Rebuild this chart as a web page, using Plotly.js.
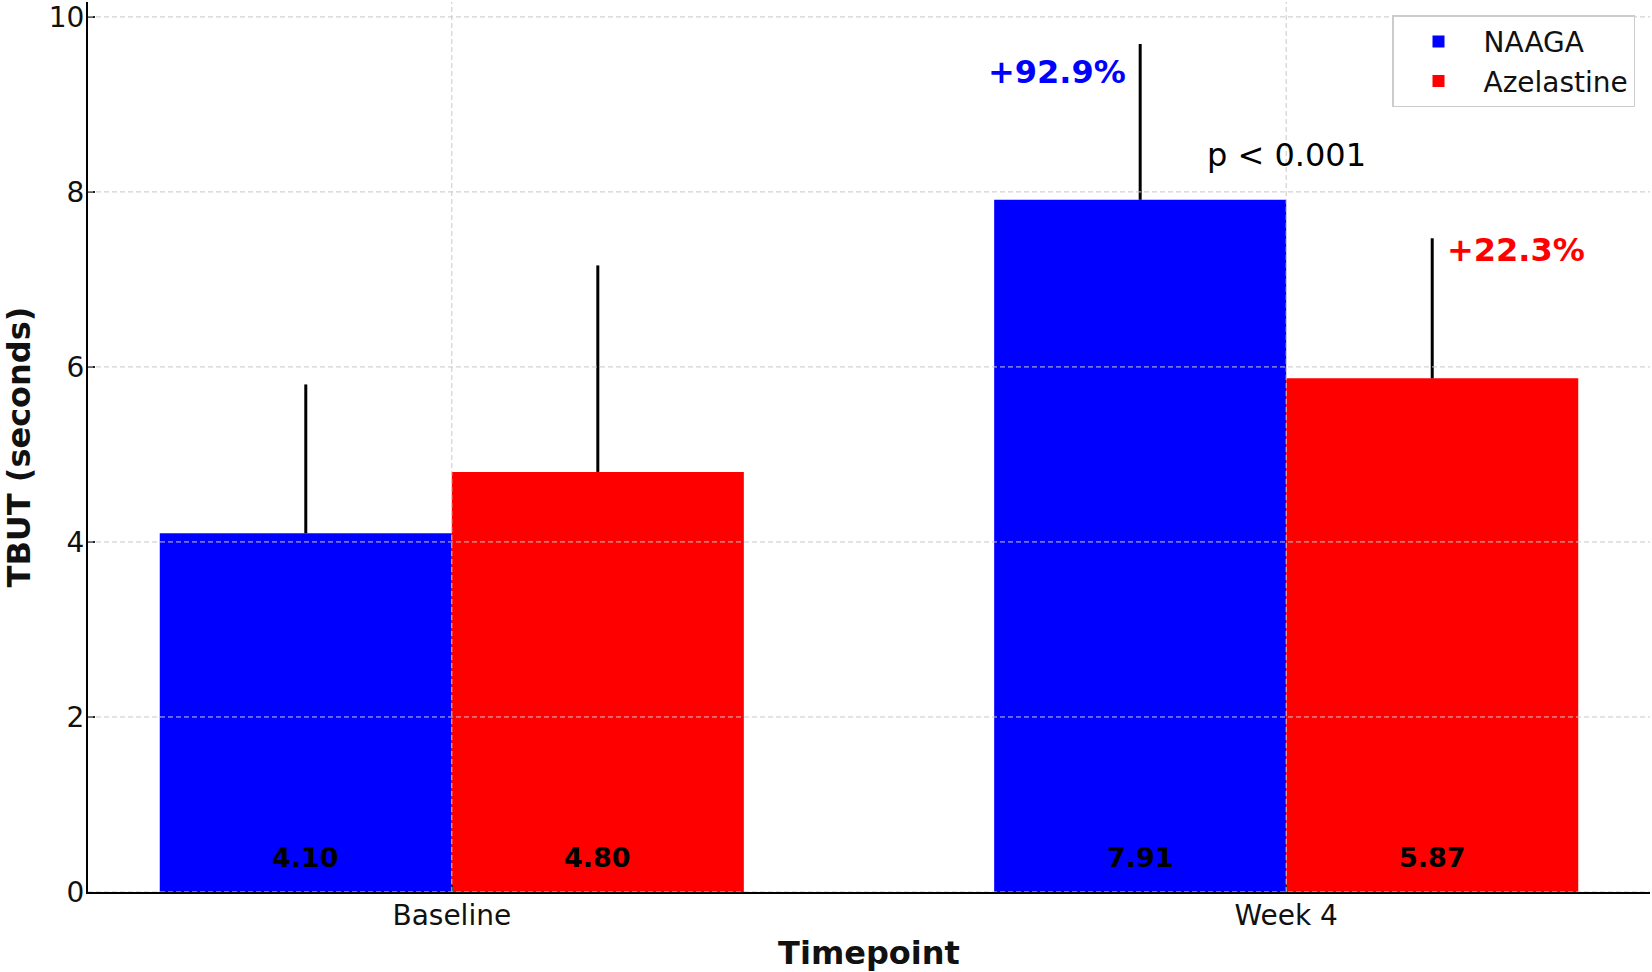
<!DOCTYPE html>
<html>
<head>
<meta charset="utf-8">
<script src="https://cdn.plot.ly/plotly-3.0.1.min.js"></script>
<style>
  html, body { margin: 0; padding: 0; background: #ffffff; }
  #chart { width: 1652px; height: 972px; }
</style>
</head>
<body>
<div id="chart"></div>
<script>
// ---- data ----
const categories = ['Baseline', 'Week 4'];
const seriesNames = ['NAAGA', 'Azelastine'];
const naagaMean = [4.10, 7.91];
const naagaSD = [1.70, 1.78];
const azeMean = [4.80, 5.87];
const azeSD = [2.36, 1.60];
const pctLabels = ['+92.9%', '+22.3%'];
const pValueText = 'p < 0.001';
const yTicks = [0, 2, 4, 6, 8, 10];

// ---- styling constants ----
const FONT = 'DejaVu Sans, Arial, sans-serif';
const BLUE = '#0000ff';
const RED = '#ff0000';
const BAR_W = 0.35;
const GRID = { color: '#c8c8c8', width: 1, dash: '5px,3px' };

const traces = [
  {
    type: 'bar', name: seriesNames[0], x: categories, y: naagaMean,
    marker: { color: BLUE, line: { width: 0 } },
    error_y: { type: 'data', symmetric: false, array: naagaSD, arrayminus: naagaSD.map(() => 0),
               color: '#000000', thickness: 3, width: 0 },
    hoverinfo: 'none'
  },
  {
    type: 'bar', name: seriesNames[1], x: categories, y: azeMean,
    marker: { color: RED, line: { width: 0 } },
    error_y: { type: 'data', symmetric: false, array: azeSD, arrayminus: azeSD.map(() => 0),
               color: '#000000', thickness: 3, width: 0 },
    hoverinfo: 'none'
  }
];

const annotations = [];
// value labels inside bars
categories.forEach((c, i) => {
  annotations.push({ x: i - BAR_W / 2, y: 0.4, xref: 'x', yref: 'y', text: naagaMean[i].toFixed(2),
    showarrow: false, xanchor: 'center', yanchor: 'middle',
    font: { family: FONT, size: 27, color: '#000000', weight: 'bold' } });
  annotations.push({ x: i + BAR_W / 2, y: 0.4, xref: 'x', yref: 'y', text: azeMean[i].toFixed(2),
    showarrow: false, xanchor: 'center', yanchor: 'middle',
    font: { family: FONT, size: 27, color: '#000000', weight: 'bold' } });
});
// percent change labels (week 4)
annotations.push({ x: 1 - BAR_W / 2, y: naagaMean[1] + naagaSD[1] - 0.3, xref: 'x', yref: 'y',
  text: pctLabels[0], showarrow: false, xanchor: 'right', yanchor: 'middle', xshift: -12, yshift: -2,
  font: { family: FONT, size: 32, color: BLUE, weight: 'bold' } });
annotations.push({ x: 1 + BAR_W / 2, y: azeMean[1] + azeSD[1] - 0.11, xref: 'x', yref: 'y',
  text: pctLabels[1], showarrow: false, xanchor: 'left', yanchor: 'middle', xshift: 13, yshift: -2,
  font: { family: FONT, size: 32, color: RED, weight: 'bold' } });
// p value
annotations.push({ x: 1, y: 8.45, xref: 'x', yref: 'y', text: pValueText, showarrow: false,
  xanchor: 'center', yanchor: 'middle', yshift: -2,
  font: { family: FONT, size: 32, color: '#000000' } });

// dashed grid drawn above the bars (as in the reference)
const shapes = [];
yTicks.forEach(v => shapes.push({ type: 'line', xref: 'paper', yref: 'y', x0: 0, x1: 1, y0: v, y1: v,
  line: GRID, layer: 'above' }));
categories.forEach((c, i) => shapes.push({ type: 'line', xref: 'x', yref: 'paper', x0: i, x1: i, y0: 0, y1: 1,
  line: GRID, layer: 'above' }));

const layout = {
  width: 1652, height: 972,
  margin: { l: 88, r: 2, t: 2, b: 80, pad: 0 },
  paper_bgcolor: '#ffffff', plot_bgcolor: '#ffffff',
  font: { family: FONT, color: '#000000' },
  barmode: 'group', bargap: 0.3, bargroupgap: 0,
  showlegend: true,
  legend: {
    x: 0.9904, xanchor: 'right', y: 0.985, yanchor: 'top',
    bgcolor: '#ffffff', bordercolor: '#cccccc', borderwidth: 1.5,
    font: { family: FONT, size: 28, color: '#111111' },
    itemwidth: 80, traceorder: 'normal', tracegroupgap: 4
  },
  xaxis: {
    type: 'category', range: [-0.436, 1.436],
    showgrid: false, zeroline: false,
    showline: true, linecolor: '#000000', linewidth: 2,
    ticks: 'inside', ticklen: 7, tickwidth: 1.5, tickcolor: '#222222',
    ticklabelstandoff: -3,
    tickfont: { family: FONT, size: 28, color: '#111111' },
    title: { text: 'Timepoint', standoff: 27,
             font: { family: FONT, size: 32, color: '#111111', weight: 'bold' } }
  },
  yaxis: {
    range: [0, 10.17], tickvals: yTicks, ticktext: yTicks.map(String),
    showgrid: false, zeroline: false,
    showline: true, linecolor: '#000000', linewidth: 2,
    ticks: 'inside', ticklen: 7, tickwidth: 1.5, tickcolor: '#222222',
    ticklabelstandoff: -4,
    tickfont: { family: FONT, size: 28, color: '#111111' },
    title: { text: 'TBUT (seconds)', standoff: 14,
             font: { family: FONT, size: 32, color: '#111111', weight: 'bold' } }
  },
  annotations: annotations,
  shapes: shapes
};

Plotly.newPlot('chart', traces, layout, { displayModeBar: false, staticPlot: true });
</script>
</body>
</html>
